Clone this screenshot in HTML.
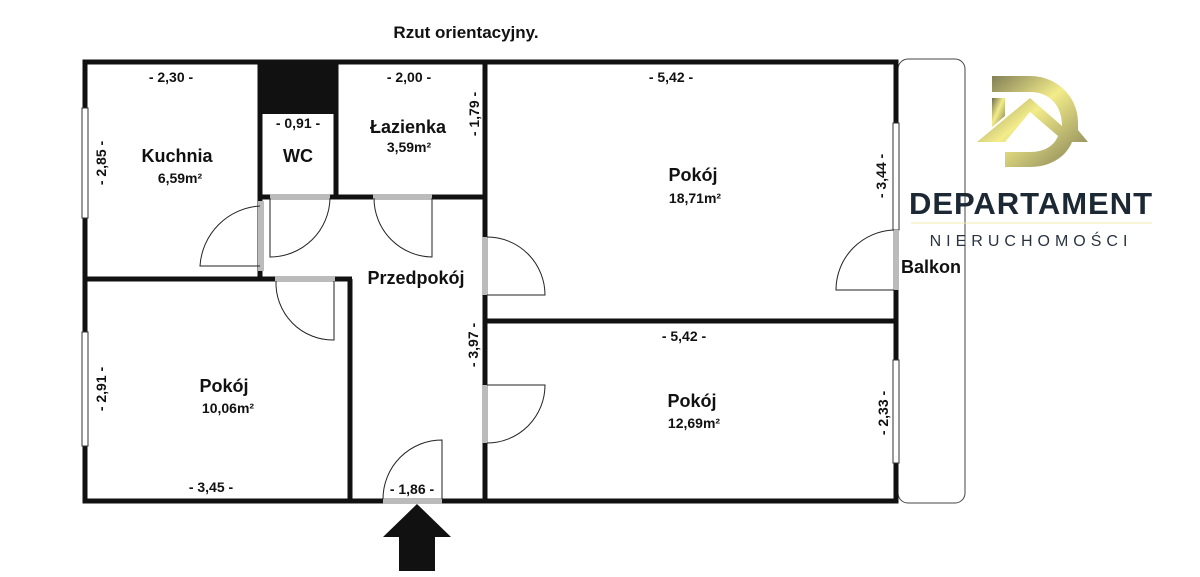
<!DOCTYPE html>
<html><head><meta charset="utf-8"><style>
html,body{margin:0;padding:0;background:#fff;width:1200px;height:577px;overflow:hidden}
text{font-family:"Liberation Sans",Arial,sans-serif;font-weight:bold;fill:#111}
</style></head><body>
<svg width="1200" height="577" viewBox="0 0 1200 577" xmlns="http://www.w3.org/2000/svg">
<defs>
<linearGradient id="g" x1="0" y1="0" x2="1" y2="1">
<stop offset="0" stop-color="#6f6d4e"/><stop offset="0.45" stop-color="#f3ec8a"/><stop offset="1" stop-color="#7d7a52"/>
</linearGradient>
</defs>
<text x="466" y="38" font-size="17" text-anchor="middle">Rzut orientacyjny.</text>
<!-- balcony -->
<rect x="898" y="59" width="67" height="444" rx="10" fill="none" stroke="#444" stroke-width="1"/>
<!-- WC black block -->
<rect x="258" y="62" width="78" height="52" fill="#111"/>
<g stroke="#111" stroke-width="5" fill="none">
<rect x="85" y="62" width="811" height="439"/>
<line x1="260" y1="62" x2="260" y2="279"/>
<line x1="336" y1="62" x2="336" y2="197"/>
<line x1="258" y1="197" x2="487" y2="197"/>
<line x1="485" y1="62" x2="485" y2="501"/>
<line x1="85" y1="279" x2="352" y2="279"/>
<line x1="350" y1="279" x2="350" y2="501"/>
<line x1="485" y1="321" x2="896" y2="321"/>
</g>
<!-- windows -->
<g fill="#fff" stroke="#333" stroke-width="1">
<rect x="82" y="108" width="6" height="110"/>
<rect x="82" y="332" width="6" height="114"/>
<rect x="893" y="123" width="6" height="107"/>
<rect x="893" y="360" width="6" height="103"/>
</g>
<!-- grey doors -->
<g fill="#bbb">
<rect x="258" y="201" width="6" height="70"/>
<rect x="270" y="194" width="60" height="6"/>
<rect x="373" y="194" width="59" height="6"/>
<rect x="275" y="276" width="60" height="6"/>
<rect x="482" y="237" width="6" height="58"/>
<rect x="482" y="385" width="6" height="58"/>
<rect x="893" y="230" width="6" height="60"/>
<rect x="383" y="498" width="59" height="6"/>
</g>
<!-- door leaves -->
<g fill="none" stroke="#222" stroke-width="1">
<path d="M260 206 A64 64 0 0 0 200 266 L260 266"/>
<path d="M330 198 A60 60 0 0 1 270 257 L270 198"/>
<path d="M374 198 A59 59 0 0 0 432 257 L432 198"/>
<path d="M276 281 A57 57 0 0 0 334 340 L334 281"/>
<path d="M487 237 A58 58 0 0 1 545 295 L487 295"/>
<path d="M487 443 A58 58 0 0 0 545 385 L487 385"/>
<path d="M894 230 A60 60 0 0 0 836 290 L894 290"/>
<path d="M383 499 A59 59 0 0 1 442 440 L442 499"/>
</g>
<!-- entry arrow -->
<polygon points="417,504 451,537 435,537 435,571 399,571 399,537 383,537" fill="#111"/>
<!-- labels -->
<g font-size="14" text-anchor="middle">
<text x="171" y="82">- 2,30 -</text>
<text x="409" y="82">- 2,00 -</text>
<text x="298" y="128">- 0,91 -</text>
<text x="671" y="82">- 5,42 -</text>
<text x="684" y="341">- 5,42 -</text>
<text x="211" y="492">- 3,45 -</text>
<text x="412" y="494">- 1,86 -</text>
<text transform="translate(106,163) rotate(-90)">- 2,85 -</text>
<text transform="translate(106,389) rotate(-90)">- 2,91 -</text>
<text transform="translate(485,114) rotate(-90)" dy="-6">- 1,79 -</text>
<text transform="translate(484,345) rotate(-90)" dy="-6">- 3,97 -</text>
<text transform="translate(886,176) rotate(-90)">- 3,44 -</text>
<text transform="translate(888,413) rotate(-90)">- 2,33 -</text>
</g>
<g font-size="18" text-anchor="middle">
<text x="177" y="162">Kuchnia</text>
<text x="298" y="162">WC</text>
<text x="408" y="133">Łazienka</text>
<text x="416" y="284">Przedpokój</text>
<text x="693" y="181">Pokój</text>
<text x="224" y="392">Pokój</text>
<text x="692" y="407">Pokój</text>
<text x="931" y="273">Balkon</text>
</g>
<g font-size="14" text-anchor="middle">
<text x="180" y="183">6,59m²</text>
<text x="409" y="152">3,59m²</text>
<text x="695" y="203">18,71m²</text>
<text x="228" y="413">10,06m²</text>
<text x="694" y="428">12,69m²</text>
</g>
<!-- logo -->
<path d="M992,76 H1030 C1058,76 1078,98 1078,122 V130 L1088,142 H1072 C1066,157 1050,167 1030,167 H1005 V142 H977 L1030,98 L1062,126 C1062,106 1050,92 1030,92 H992 Z" fill="url(#g)"/>
<path d="M1005,142 L1030,112 L1058,136 C1054,146 1044,152 1030,152 H1005 Z" fill="#fff"/>
<polygon points="992,98 1005,98 1005,116 992,127" fill="url(#g)"/>
<text x="1031" y="214" font-size="31" text-anchor="middle" style="fill:#1c2833;font-weight:600;letter-spacing:1px">DEPARTAMENT</text>
<line x1="911" y1="223" x2="1152" y2="223" stroke="#f3ecb0" stroke-width="1"/>
<text x="1031" y="246" font-size="16" text-anchor="middle" style="fill:#2a3440;font-weight:normal;letter-spacing:5px">NIERUCHOMOŚCI</text>
</svg>
</body></html>
